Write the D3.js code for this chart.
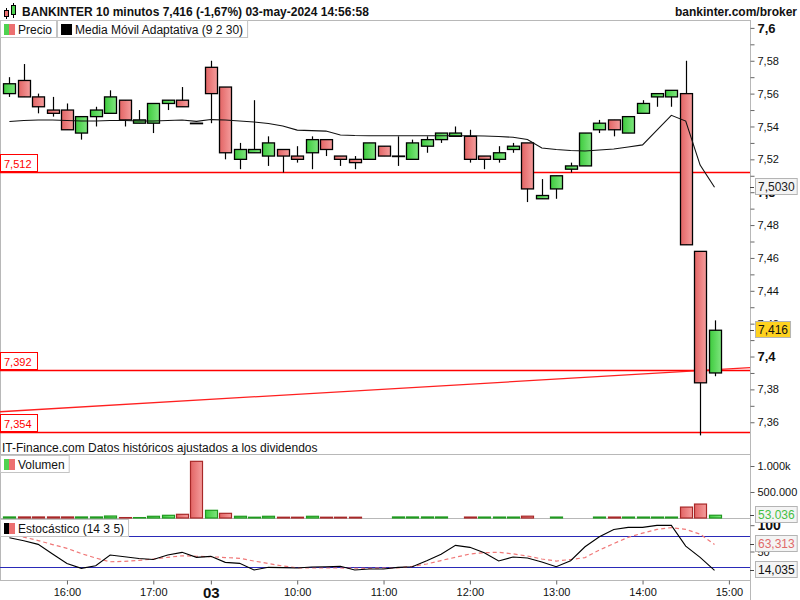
<!DOCTYPE html>
<html>
<head>
<meta charset="utf-8">
<script src="https://d3js.org/d3.v7.min.js"></script>
<style>
    body { margin: 0; background: #fff; }
    svg { font-family: "Liberation Sans", Arial, sans-serif; }
</style>
</head>
<body>
<script>
    // velas de 10 minutos (sesión del 02 y del 03-may)
    const times = ["15:20","15:30","15:40","15:50","16:00","16:10","16:20","16:30","16:40","16:50",
        "17:00","17:10","17:20","17:30","09:00","09:10","09:20","09:30","09:40","09:50",
        "10:00","10:10","10:20","10:30","10:40","10:50","11:00","11:10","11:20","11:30",
        "11:40","11:50","12:00","12:10","12:20","12:30","12:40","12:50","13:00","13:10",
        "13:20","13:30","13:40","13:50","14:00","14:10","14:20","14:30","14:40","14:50"];

    const open = [7.560,7.568,7.558,7.550,7.550,7.536,7.546,7.548,7.556,7.542,7.542,7.554,7.556,7.542,
        7.576,7.564,7.520,7.524,7.522,7.526,7.522,7.524,7.532,7.522,7.520,7.520,7.528,7.522,7.520,7.528,
        7.532,7.534,7.534,7.522,7.520,7.526,7.530,7.496,7.502,7.514,7.516,7.538,7.544,7.536,7.548,7.558,
        7.558,7.560,7.464,7.390];
    const high = [7.570,7.578,7.560,7.558,7.554,7.546,7.552,7.562,7.556,7.550,7.554,7.556,7.564,7.542,
        7.580,7.564,7.530,7.556,7.534,7.526,7.528,7.534,7.532,7.522,7.522,7.530,7.528,7.534,7.532,7.534,
        7.536,7.540,7.538,7.522,7.528,7.530,7.530,7.508,7.510,7.518,7.536,7.544,7.544,7.546,7.556,7.560,
        7.562,7.580,7.464,7.422];
    const low = [7.558,7.558,7.548,7.546,7.538,7.532,7.540,7.548,7.540,7.542,7.536,7.550,7.552,7.542,
        7.542,7.520,7.514,7.524,7.516,7.512,7.518,7.514,7.522,7.516,7.514,7.520,7.522,7.516,7.520,7.524,
        7.530,7.534,7.518,7.514,7.518,7.524,7.494,7.496,7.496,7.512,7.516,7.536,7.534,7.536,7.548,7.552,
        7.552,7.468,7.352,7.388];
    const close = [7.566,7.558,7.552,7.548,7.538,7.546,7.550,7.558,7.544,7.544,7.554,7.556,7.552,7.542,
        7.560,7.524,7.526,7.526,7.530,7.522,7.520,7.532,7.526,7.520,7.518,7.530,7.522,7.522,7.530,7.532,
        7.536,7.536,7.520,7.520,7.524,7.528,7.502,7.498,7.510,7.516,7.536,7.542,7.538,7.546,7.554,7.560,
        7.562,7.468,7.384,7.416];
    const volume = [20000,20000,20000,20000,20000,20000,20000,38000,8000,8000,33000,52000,71000,1090000,
        148000,90000,33000,15000,33000,15000,15000,33000,15000,15000,15000,0,0,20000,20000,20000,
        20000,0,18000,18000,18000,18000,35000,0,18000,0,0,18000,18000,18000,18000,18000,
        18000,210000,268000,53036];
    // Media Móvil Adaptativa (9 2 30)
    const ama = [7.5430,7.5436,7.5439,7.5439,7.5436,7.5433,7.5433,7.5436,7.5436,7.5433,7.5433,7.5436,7.5439,7.5431,
        7.5442,7.5439,7.5433,7.5427,7.5418,7.5403,7.5378,7.5375,7.5372,7.5348,7.5345,7.5344,7.5344,7.5344,7.5344,7.5344,
        7.5344,7.5344,7.5344,7.5342,7.5339,7.5334,7.5321,7.5269,7.5260,7.5254,7.5251,7.5257,7.5263,7.5275,7.5288,7.5378,
        7.5468,7.5433,7.5165,7.5030];
    // Estocástico (14 3 5)
    const stochK = [76.3,70.6,63.6,45.4,27.3,18,23,43.3,40,36.6,34.7,43.3,48.4,38.9,
        40.8,29.4,27.5,14.8,19.9,19.4,18.6,20.5,21,21.8,14.8,16.7,16.7,19.9,21,32.4,
        44.6,61.7,57.9,47.6,31.9,39.5,37.6,30,21,32.4,59,78,92,95.8,95.8,99.6,
        99.6,60.3,38.9,14.035];
    const stochD = [85,77.4,70.8,63.2,56,46,37.6,30.5,31.3,33.2,35.7,38.9,41.9,41,
        40,38.5,37,31.9,27.1,22.4,19,18.6,18.6,18.6,18.2,18,18.6,18.6,21.8,26.2,
        32.8,39.1,45.2,47.8,48.4,45.5,41.4,35.7,31.9,34.7,38.5,52.8,65.1,76.9,85,92,
        95.4,92,83.1,63.313];

    const levels = [7.512, 7.392, 7.354];
    const trendIdx = [-0.65, 51.47];
    const trendPrice = [7.3664, 7.3932];

    const priceTicks = d3.range(736, 761).map(v => v / 100);
    const volumeTicks = [500000, 1000000];
    const volumeTickLabels = ["500.000", "1.000k"];
    const stochTicks = [100, 50];
    const timeTickIdx = [4, 10, 14, 20, 26, 32, 38, 44, 50];
    const timeTickLabels = ["16:00", "17:00", "03", "10:00", "11:00", "12:00", "13:00", "14:00", "15:00"];

    const title = "BANKINTER 10 minutos 7,416 (-1,67%) 03-may-2024 14:56:58";

    const W = 800, H = 600, axisX = 750;
    const svg = d3.select("body").append("svg").attr("width", W).attr("height", H);

    const x = d3.scaleLinear().domain([0, times.length - 1]).range([9.4, 9.4 + 14.39 * (times.length - 1)]);
    const y = d3.scaleLinear().domain([7.3492, 7.6048]).range([440, 20]);
    const yv = d3.scaleLinear().domain([0, 1000000]).range([518, 466]);
    const ys = d3.scaleLinear().domain([0, 100]).range([577.8, 525.2]);
    const bw = 12;

    const comma = v => String(+v.toFixed(4)).replace(".", ",");

    // degradados de las velas
    const defs = svg.append("defs");
    function grad(id, c1, c2) {
        const g = defs.append("linearGradient").attr("id", id).attr("x1", 0).attr("x2", 1).attr("y1", 0).attr("y2", 0);
        g.append("stop").attr("offset", "0%").attr("stop-color", c1);
        g.append("stop").attr("offset", "100%").attr("stop-color", c2);
    }
    grad("gUp", "#3dcb3d", "#7fe67f");
    grad("gDown", "#e26464", "#f59d9d");

    // marcos
    const frame = svg.append("g").attr("stroke", "#b8b8b8").attr("stroke-width", 1);
    frame.append("line").attr("x1", 0).attr("x2", axisX).attr("y1", 20.5).attr("y2", 20.5);
    frame.append("line").attr("x1", 0).attr("x2", axisX).attr("y1", 454.5).attr("y2", 454.5);
    frame.append("line").attr("x1", 0).attr("x2", axisX).attr("y1", 518.5).attr("y2", 518.5);
    frame.append("line").attr("x1", 0).attr("x2", axisX).attr("y1", 580.5).attr("y2", 580.5);
    frame.append("line").attr("x1", 0.5).attr("x2", 0.5).attr("y1", 20).attr("y2", 580);
    frame.append("line").attr("x1", axisX + 0.5).attr("x2", axisX + 0.5).attr("y1", 20).attr("y2", 600);

    const idx = d3.range(times.length);

    // ---- panel de precio ----
    const price = svg.append("g");

    price.selectAll(".lvl").data(levels).join("line")
        .attr("x1", 0).attr("x2", axisX)
        .attr("y1", d => Math.round(y(d)) + 0.5).attr("y2", d => Math.round(y(d)) + 0.5)
        .attr("stroke", "#ff0000").attr("stroke-width", 1.3);

    price.append("line")
        .attr("x1", x(trendIdx[0])).attr("x2", x(trendIdx[1]))
        .attr("y1", y(trendPrice[0])).attr("y2", y(trendPrice[1]))
        .attr("stroke", "#ff2020").attr("stroke-width", 1.3);

    price.selectAll(".wick").data(idx).join("line")
        .attr("x1", i => Math.round(x(i)) + 0.5).attr("x2", i => Math.round(x(i)) + 0.5)
        .attr("y1", i => y(high[i])).attr("y2", i => y(low[i]))
        .attr("stroke", "#000").attr("stroke-width", 1.2);

    price.selectAll(".body").data(idx).join("rect")
        .attr("x", i => Math.round(x(i)) - bw / 2 + 0.5)
        .attr("width", bw)
        .attr("y", i => y(Math.max(open[i], close[i])))
        .attr("height", i => Math.max(0.5, Math.abs(y(open[i]) - y(close[i]))))
        .attr("fill", i => close[i] >= open[i] ? "url(#gUp)" : "url(#gDown)")
        .attr("stroke", "#000").attr("stroke-width", 1.3);

    price.append("path").datum(idx)
        .attr("d", d3.line().x(i => x(i)).y(i => y(ama[i])))
        .attr("fill", "none").attr("stroke", "#111").attr("stroke-width", 1.1);

    // etiquetas de nivel a la izquierda
    levels.forEach(v => {
        const ly = Math.round(y(v));
        price.append("rect").attr("x", 0.5).attr("y", ly - 17.5).attr("width", 37).attr("height", 17)
            .attr("fill", "#fff").attr("stroke", "#ff0000");
        price.append("text").attr("x", 4).attr("y", ly - 4.5).attr("font-size", 11)
            .attr("fill", "#ff0000").text(comma(v));
    });

    // eje de precio
    const pAxis = svg.append("g").attr("transform", `translate(${axisX + 0.5},0)`)
        .call(d3.axisRight(y).tickValues(priceTicks).tickSize(4).tickPadding(3)
            .tickFormat(v => Math.round(v * 100) % 2 === 0 ? comma(v) : ""));
    pAxis.select(".domain").remove();
    pAxis.selectAll(".tick line").attr("stroke", "#666");
    pAxis.selectAll(".tick text").attr("fill", "#111").attr("font-size", 11)
        .attr("font-family", "Liberation Sans, Arial, sans-serif")
        .filter(v => Math.round(v * 100) % 10 === 0)
        .attr("font-weight", "bold").attr("font-size", 13);

    // ---- volumen ----
    const vol = svg.append("g");
    const upVol = i => i === 0 ? close[i] >= open[i] : close[i] >= close[i - 1];
    vol.selectAll("rect").data(idx.filter(i => volume[i] > 0)).join("rect")
        .attr("x", i => Math.round(x(i)) - bw / 2 + 0.5)
        .attr("width", bw)
        .attr("y", i => yv(volume[i]))
        .attr("height", i => Math.max(0.3, yv(0) - yv(volume[i])))
        .attr("fill", i => upVol(i) ? "url(#gUp)" : "url(#gDown)")
        .attr("stroke", i => upVol(i) ? "#1f9a1f" : "#a82828").attr("stroke-width", 1.2);

    const vAxis = svg.append("g").attr("transform", `translate(${axisX + 0.5},0)`)
        .call(d3.axisRight(yv).tickValues(volumeTicks).tickSize(4).tickPadding(3)
            .tickFormat((d, k) => volumeTickLabels[k]));
    vAxis.select(".domain").remove();
    vAxis.selectAll(".tick line").attr("stroke", "#666");
    vAxis.selectAll(".tick text").attr("fill", "#111").attr("font-size", 11)
        .attr("font-family", "Liberation Sans, Arial, sans-serif");

    // ---- estocástico ----
    const st = svg.append("g");
    [80, 20].forEach(v => {
        st.append("line").attr("x1", 0).attr("x2", axisX)
            .attr("y1", Math.round(ys(v)) + 0.5).attr("y2", Math.round(ys(v)) + 0.5)
            .attr("stroke", "#2a2ab8").attr("stroke-width", 1.2);
    });
    st.append("path").datum(idx)
        .attr("d", d3.line().x(i => x(i)).y(i => ys(stochD[i])))
        .attr("fill", "none").attr("stroke", "#f07878").attr("stroke-width", 1.2)
        .attr("stroke-dasharray", "4,3");
    st.append("path").datum(idx)
        .attr("d", d3.line().x(i => x(i)).y(i => ys(stochK[i])))
        .attr("fill", "none").attr("stroke", "#000").attr("stroke-width", 1.1);

    const sAxis = svg.append("g").attr("transform", `translate(${axisX + 0.5},0)`)
        .call(d3.axisRight(ys).tickValues(stochTicks).tickSize(4).tickPadding(3));
    sAxis.select(".domain").remove();
    sAxis.selectAll(".tick line").attr("stroke", "#666");
    sAxis.selectAll(".tick text").attr("fill", "#111").attr("font-size", 11)
        .attr("font-family", "Liberation Sans, Arial, sans-serif")
        .filter(v => v === 100).attr("font-weight", "bold").attr("font-size", 14);

    // ---- eje de tiempo ----
    const tAxis = svg.append("g").attr("transform", "translate(0,580.5)")
        .call(d3.axisBottom(x).tickValues(timeTickIdx).tickSize(4).tickPadding(4)
            .tickFormat((d, k) => timeTickLabels[k]));
    tAxis.select(".domain").remove();
    tAxis.selectAll(".tick line").attr("stroke", "#666");
    tAxis.selectAll(".tick text").attr("fill", "#111").attr("font-size", 11)
        .attr("font-family", "Liberation Sans, Arial, sans-serif")
        .filter((d, k) => timeTickLabels[k] === "03").attr("font-weight", "bold").attr("font-size", 15)
        .attr("dy", "0.6em");

    // ---- cajas de último valor ----
    function valueBox(vy, label, txtColor, bg) {
        const g = svg.append("g");
        g.append("line").attr("x1", axisX).attr("x2", axisX + 4).attr("y1", Math.round(vy) + 0.5).attr("y2", Math.round(vy) + 0.5)
            .attr("stroke", "#444");
        const r = g.append("rect").attr("x", 755.5).attr("y", Math.round(vy) - 8.5).attr("height", 16)
            .attr("fill", bg).attr("stroke", "#b4b4b4");
        const t = g.append("text").attr("x", 758).attr("y", Math.round(vy) + 4).attr("font-size", 12)
            .attr("fill", txtColor).text(label);
        r.attr("width", t.node().getComputedTextLength() + 5);
    }
    valueBox(y(ama[ama.length - 1]), comma(ama[ama.length - 1]).padEnd(6, "0"), "#222", "#f4f4f4");
    valueBox(y(close[close.length - 1]), comma(close[close.length - 1]), "#111", "#ffd21f");
    valueBox(yv(volume[volume.length - 1]), d3.format(",")(volume[volume.length - 1]).replace(/,/g, "."), "#44c044", "#f4f4f4");
    valueBox(ys(stochD[stochD.length - 1]), comma(stochD[stochD.length - 1]), "#e06a6a", "#f4f4f4");
    valueBox(ys(stochK[stochK.length - 1]), comma(stochK[stochK.length - 1]), "#111", "#f4f4f4");

    // ---- leyendas ----
    function legend(lx, ly, label, c1, c2) {
        const g = svg.append("g");
        const r = g.append("rect").attr("x", lx + 0.5).attr("y", ly + 0.5).attr("height", 17)
            .attr("fill", "#fff").attr("stroke", "#c4c4c4");
        g.append("rect").attr("x", lx + 4).attr("y", ly + 4).attr("width", 5).attr("height", 11).attr("fill", c1);
        g.append("rect").attr("x", lx + 9).attr("y", ly + 4).attr("width", 6).attr("height", 11).attr("fill", c2);
        const t = g.append("text").attr("x", lx + 18).attr("y", ly + 13.5).attr("font-size", 12)
            .attr("fill", "#111").text(label);
        r.attr("width", t.node().getComputedTextLength() + 22);
        return lx + t.node().getComputedTextLength() + 23;
    }
    const nx = legend(0, 20, "Precio", "#4fd24f", "#ec7070");
    legend(nx, 20, "Media Móvil Adaptativa (9 2 30)", "#000", "#000");
    legend(0, 455, "Volumen", "#4fd24f", "#ec7070");
    legend(0, 519, "Estocástico (14 3 5)", "#000", "#ec7070");

    svg.append("text").attr("x", 2).attr("y", 452).attr("font-size", 12).attr("fill", "#111")
        .text("IT-Finance.com  Datos históricos ajustados a los dividendos");

    // ---- cabecera ----
    const hd = svg.append("g");
    hd.append("line").attr("x1", 6.5).attr("x2", 6.5).attr("y1", 8).attr("y2", 19).attr("stroke", "#000");
    hd.append("rect").attr("x", 4.5).attr("y", 10.5).attr("width", 4).attr("height", 6)
        .attr("fill", "#ec7070").attr("stroke", "#000");
    hd.append("line").attr("x1", 13.5).attr("x2", 13.5).attr("y1", 3).attr("y2", 18).attr("stroke", "#000");
    hd.append("rect").attr("x", 11.5).attr("y", 5.5).attr("width", 4).attr("height", 9)
        .attr("fill", "#4fd24f").attr("stroke", "#000");
    hd.append("text").attr("x", 22).attr("y", 16).attr("font-size", 12).attr("font-weight", "bold")
        .attr("fill", "#111").text(title);
    hd.append("text").attr("x", 797).attr("y", 16).attr("font-size", 12).attr("font-weight", "bold")
        .attr("text-anchor", "end").attr("fill", "#111").text("bankinter.com/broker");
</script>
</body>
</html>
